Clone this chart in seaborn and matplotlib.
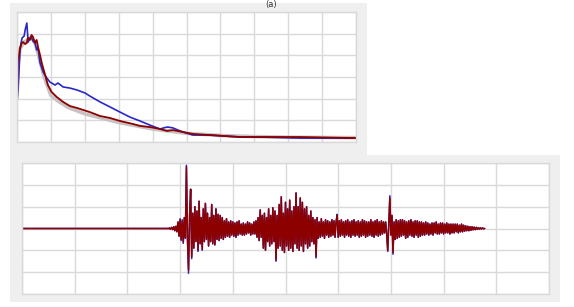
import numpy as np
import pandas as pd
import seaborn as sns
import matplotlib.pyplot as plt
from matplotlib.patches import Rectangle

sns.set_style("white")

# ---- top panel: spectra (x in grid units 0-10, y 0-6) ----
blue_f = [0.00, 0.03, 0.06, 0.09, 0.12, 0.15, 0.21, 0.24, 0.29, 0.31, 0.33, 0.38, 0.43, 0.47,
          0.53, 0.58, 0.62, 0.68, 0.77, 0.88, 0.97, 1.12, 1.21, 1.36, 1.56, 1.77, 2.01, 2.15,
          2.45, 2.74, 3.04, 3.33, 3.63, 3.92, 4.22, 4.37, 4.45, 4.60, 4.75, 4.90, 5.19, 5.69,
          6.58, 7.17, 8.35, 10.0]
blue_a = [1.94, 2.40, 3.32, 4.25, 4.57, 4.80, 4.89, 5.17, 5.49, 5.03, 4.61, 4.80, 4.80, 4.66,
          4.57, 4.25, 4.34, 3.65, 3.23, 2.95, 2.77, 2.63, 2.72, 2.54, 2.49, 2.40, 2.26, 2.12,
          1.85, 1.62, 1.38, 1.15, 0.97, 0.78, 0.60, 0.67, 0.69, 0.65, 0.55, 0.46, 0.32, 0.32,
          0.23, 0.23, 0.18, 0.18]

red_f = [0.00, 0.03, 0.06, 0.09, 0.14, 0.18, 0.24, 0.29, 0.32, 0.38, 0.43, 0.47, 0.53, 0.58,
         0.62, 0.68, 0.73, 0.83, 0.91, 1.02, 1.17, 1.36, 1.56, 1.77, 1.95, 2.15, 2.45, 2.74,
         3.04, 3.42, 3.63, 3.92, 4.22, 4.42, 4.60, 4.90, 5.19, 5.69, 6.58, 8.35, 10.0]
red_a = [1.94, 3.78, 4.01, 4.34, 4.57, 4.61, 4.52, 4.57, 4.80, 4.71, 4.94, 4.85, 4.57, 4.71,
         4.38, 4.01, 3.65, 3.09, 2.63, 2.31, 2.08, 1.85, 1.66, 1.57, 1.48, 1.38, 1.20, 1.11,
         0.97, 0.83, 0.74, 0.69, 0.60, 0.51, 0.55, 0.46, 0.37, 0.32, 0.23, 0.23, 0.18]

gray_f = [0.0, 0.03, 0.09, 0.2, 0.3, 0.43, 0.55, 0.65, 0.8, 1.0, 1.2, 1.5, 2.0, 2.5, 3.0,
          3.5, 4.0, 4.5, 5.0, 6.0, 7.0, 8.0, 10.0]
gray_a = [2.0, 3.6, 4.3, 4.6, 4.7, 4.85, 4.5, 3.9, 3.0, 2.15, 1.9, 1.6, 1.3, 1.1, 0.9,
          0.75, 0.6, 0.5, 0.4, 0.3, 0.25, 0.22, 0.2]

# ---- bottom panel: time histories (seconds, 0-50), one row per second from 14 s ----
t_lead = [0.0, 14.0]
dt = 0.1
red_w = [
    0.02, -0.03, 0.05, -0.05, 0.08, -0.1, 0.1, -0.15, 0.3, -0.35,
    0.4, -0.5, 0.35, -0.62, 0.5, -0.4, 2.82, -0.5, -1.9, 0.6,
    1.8, -1.3, 0.7, -0.9, 1.0, -0.6, 0.8, -1.0, 1.25, -0.7,
    0.5, -0.95, 0.9, -0.6, 1.15, -0.5, 0.7, -0.8, 0.5, -0.6,
    1.1, -0.7, 0.6, -0.75, 0.9, -0.5, 0.65, -0.55, 0.6, -0.45,
    0.5, -0.5, 0.35, -0.4, 0.45, -0.35, 0.3, -0.4, 0.35, -0.3,
    0.3, -0.35, 0.25, -0.4, 0.3, -0.3, 0.35, -0.25, 0.2, -0.3,
    0.25, -0.3, 0.2, -0.25, 0.3, -0.2, 0.25, -0.3, 0.2, -0.25,
    0.3, -0.25, 0.35, -0.4, 0.5, -0.55, 0.85, -0.4, 0.6, -0.9,
    0.7, -1.0, 0.5, -0.6, 0.9, -0.8, 0.6, -0.7, 0.95, -0.6,
    0.8, -1.45, 0.6, -0.9, 1.1, -0.8, 1.45, -1.0, 0.7, -1.1,
    1.2, -0.8, 0.9, -1.0, 1.3, -0.9, 0.8, -1.05, 1.0, -0.7,
    1.63, -0.9, 1.0, -1.0, 1.4, -0.8, 1.2, -1.05, 0.9, -0.7,
    1.0, -0.9, 0.6, -0.8, 0.8, -0.6, 0.5, -0.7, 0.4, -1.3,
    0.5, -0.45, 0.3, -0.4, 0.45, -0.35, 0.3, -0.45, 0.4, -0.3,
    0.35, -0.4, 0.3, -0.35, 0.4, -0.3, 0.35, -0.4, 0.3, 0.6,
    -0.4, 0.35, -0.35, 0.4, -0.3, 0.3, -0.4, 0.35, -0.3, 0.4,
    -0.35, 0.3, -0.4, 0.35, -0.3, 0.4, -0.35, 0.3, -0.3, 0.35,
    -0.4, 0.3, -0.35, 0.4, -0.3, 0.35, -0.4, 0.3, -0.35, 0.3,
    -0.3, 0.4, -0.35, 0.3, -0.4, 0.35, -0.3, 0.4, -0.35, 0.3,
    -0.3, 0.35, -0.25, 0.3, -0.2, 0.3, -0.25, -1.0, 0.2, 1.4,
    -0.3, 0.6, -1.1, 0.3, -0.5, 0.4, -0.45, 0.35, -0.4, 0.4,
    -0.35, 0.4, -0.3, 0.35, -0.45, 0.3, -0.4, 0.35, -0.3, 0.4,
    -0.35, 0.3, -0.4, 0.35, -0.3, 0.35, -0.4, 0.3, -0.35, 0.3,
    -0.3, 0.25, -0.3, 0.3, -0.25, 0.25, -0.3, 0.2, -0.25, 0.25,
    -0.3, 0.25, -0.2, 0.3, -0.25, 0.2, -0.25, 0.25, -0.2, 0.25,
    -0.25, 0.2, -0.2, 0.25, -0.2, 0.2, -0.25, 0.2, -0.2, 0.2,
    -0.2, 0.2, -0.15, 0.2, -0.2, 0.15, -0.15, 0.2, -0.15, 0.15,
    -0.12, 0.12, -0.1, 0.1, -0.1, 0.08, -0.08, 0.08, -0.06, 0.06,
    -0.05, 0.05, -0.04, 0.04, -0.03, 0.03, -0.02, 0.02, -0.01, 0.0]
blue_w = [
    0.02, -0.03, 0.05, -0.05, 0.08, -0.1, 0.1, -0.15, 0.3, -0.35,
    0.45, -0.55, 0.4, -0.68, 0.5, -0.45, 2.9, -0.5, -2.05, 0.6,
    1.8, -1.38, 0.7, -0.9, 1.0, -0.6, 0.8, -1.05, 1.25, -0.7,
    0.5, -1.0, 0.9, -0.6, 1.15, -0.5, 0.7, -0.8, 0.5, -0.6,
    1.1, -0.7, 0.6, -0.75, 0.9, -0.5, 0.65, -0.55, 0.6, -0.45,
    0.5, -0.5, 0.35, -0.4, 0.45, -0.35, 0.3, -0.4, 0.35, -0.3,
    0.3, -0.35, 0.25, -0.4, 0.3, -0.3, 0.35, -0.25, 0.2, -0.3,
    0.25, -0.3, 0.2, -0.25, 0.3, -0.2, 0.25, -0.3, 0.2, -0.25,
    0.3, -0.25, 0.35, -0.4, 0.5, -0.55, 0.85, -0.4, 0.6, -0.9,
    0.7, -1.0, 0.5, -0.6, 0.9, -0.8, 0.6, -0.7, 0.95, -0.6,
    0.8, -1.5, 0.6, -0.9, 1.1, -0.8, 1.45, -1.0, 0.7, -1.1,
    1.2, -0.8, 0.9, -1.0, 1.3, -0.9, 0.8, -1.05, 1.0, -0.7,
    1.63, -0.9, 1.0, -1.0, 1.4, -0.8, 1.2, -1.05, 0.9, -0.7,
    1.0, -0.9, 0.6, -0.8, 0.8, -0.6, 0.5, -0.7, 0.4, -1.35,
    0.5, -0.45, 0.3, -0.4, 0.45, -0.35, 0.3, -0.45, 0.4, -0.3,
    0.35, -0.4, 0.3, -0.35, 0.4, -0.3, 0.35, -0.4, 0.3, 0.65,
    -0.4, 0.35, -0.35, 0.4, -0.3, 0.3, -0.4, 0.35, -0.3, 0.4,
    -0.35, 0.3, -0.4, 0.35, -0.3, 0.4, -0.35, 0.3, -0.3, 0.35,
    -0.4, 0.3, -0.35, 0.4, -0.3, 0.35, -0.4, 0.3, -0.35, 0.3,
    -0.3, 0.4, -0.35, 0.3, -0.4, 0.35, -0.3, 0.4, -0.35, 0.3,
    -0.3, 0.35, -0.25, 0.3, -0.2, 0.3, -0.25, -1.05, 0.2, 1.5,
    -0.3, 0.6, -1.18, 0.3, -0.5, 0.4, -0.45, 0.35, -0.4, 0.4,
    -0.35, 0.4, -0.3, 0.35, -0.45, 0.3, -0.4, 0.35, -0.3, 0.4,
    -0.35, 0.3, -0.4, 0.35, -0.3, 0.35, -0.4, 0.3, -0.35, 0.3,
    -0.3, 0.25, -0.3, 0.3, -0.25, 0.25, -0.3, 0.2, -0.25, 0.25,
    -0.3, 0.25, -0.2, 0.3, -0.25, 0.2, -0.25, 0.25, -0.2, 0.25,
    -0.25, 0.2, -0.2, 0.25, -0.2, 0.2, -0.25, 0.2, -0.2, 0.2,
    -0.2, 0.2, -0.15, 0.2, -0.2, 0.15, -0.15, 0.2, -0.15, 0.15,
    -0.12, 0.12, -0.1, 0.1, -0.1, 0.08, -0.08, 0.08, -0.06, 0.06,
    -0.05, 0.05, -0.04, 0.04, -0.03, 0.03, -0.02, 0.02, -0.01, 0.0]

RED = "#8c0000"
BLUE = "#2828c8"
GRID = "#d9d9d9"
PANEL = "#efefef"

W, H = 574, 307
fig = plt.figure(figsize=(W / 100, H / 100), dpi=100)
fig.patch.set_facecolor("white")

# gray panel frames (pixel boxes converted to figure fractions)
def box(x0, y0, x1, y1):
    return Rectangle((x0 / W, 1 - y1 / H), (x1 - x0) / W, (y1 - y0) / H,
                     transform=fig.transFigure, facecolor=PANEL, edgecolor="none", zorder=-5)

fig.patches.append(box(10, 3, 367, 162))
fig.patches.append(box(10, 155, 560, 302))

ax1 = fig.add_axes([17 / W, 1 - 142 / H, 339 / W, 130 / H], zorder=2)
ax2 = fig.add_axes([22 / W, 1 - 294 / H, 527 / W, 131 / H], zorder=2)

top = pd.concat([
    pd.DataFrame({"f": gray_f, "a": gray_a, "s": "gray"}),
    pd.DataFrame({"f": blue_f, "a": blue_a, "s": "blue"}),
    pd.DataFrame({"f": red_f, "a": red_a, "s": "red"}),
])
sns.lineplot(data=top, x="f", y="a", hue="s", sort=False, estimator=None,
             palette={"gray": "#c9c2c2", "blue": BLUE, "red": RED},
             size="s", sizes={"gray": 2.6, "blue": 1.2, "red": 1.3},
             legend=False, ax=ax1)
ax1.set_xlim(0, 10)
ax1.set_ylim(0, 6)

t_w = np.concatenate([t_lead, 14.0 + dt * np.arange(len(red_w))])
bot = pd.concat([
    pd.DataFrame({"t": t_w, "a": [0.0, 0.0] + blue_w, "s": "blue"}),
    pd.DataFrame({"t": t_w, "a": [0.0, 0.0] + red_w, "s": "red"}),
])
sns.lineplot(data=bot, x="t", y="a", hue="s", sort=False, estimator=None,
             palette={"blue": BLUE, "red": RED}, legend=False, linewidth=1.1, ax=ax2)
ax2.set_xlim(0, 50)
ax2.set_ylim(-3, 3)

for ax, xs, ys in [(ax1, np.arange(0, 11, 1), np.arange(0, 7, 1)),
                   (ax2, np.arange(0, 51, 5), np.arange(-3, 4, 1))]:
    ax.set_facecolor("white")
    ax.set_xticks(xs)
    ax.set_yticks(ys)
    ax.grid(True, color=GRID, linewidth=1.0)
    ax.set_axisbelow(True)
    ax.tick_params(length=0, labelbottom=False, labelleft=False)
    ax.set_xlabel("")
    ax.set_ylabel("")
    for sp in ax.spines.values():
        sp.set_color(GRID)
        sp.set_linewidth(1.0)

fig.text(271 / W, 1.0, "(a)", ha="center", va="top", fontsize=6, color="#333333")

fig.savefig("out.png", dpi=100, facecolor="white")
